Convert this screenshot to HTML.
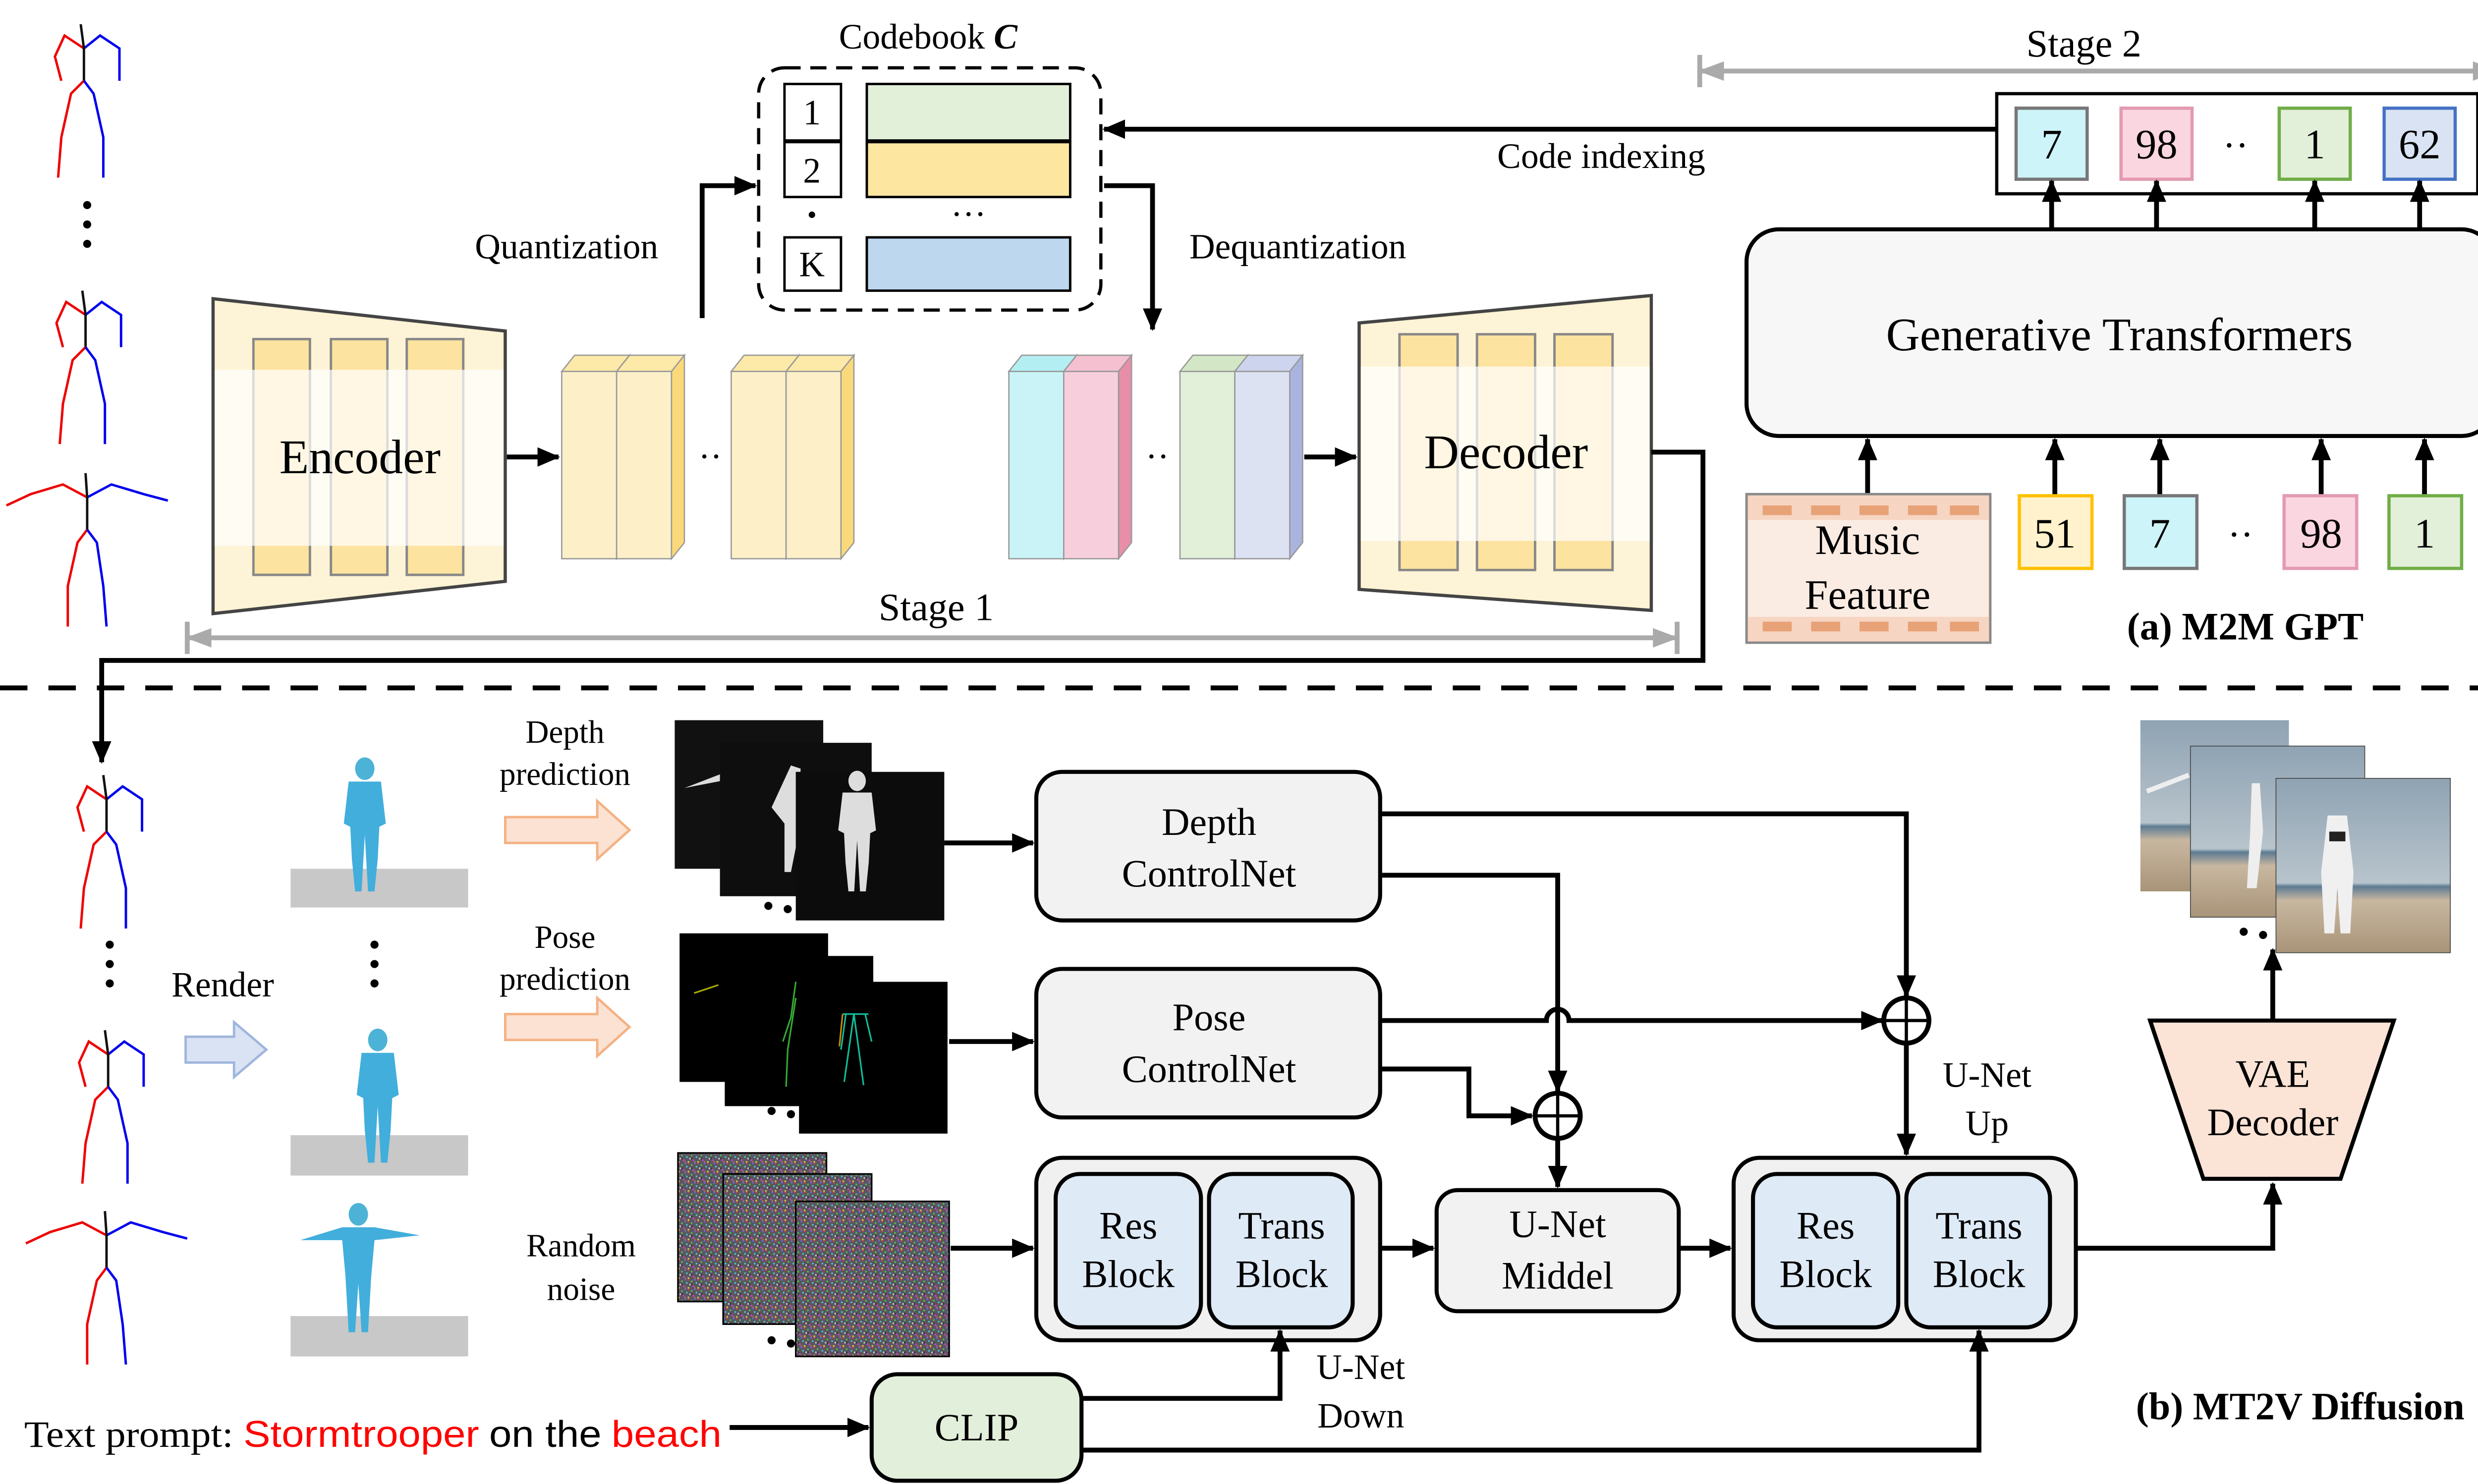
<!DOCTYPE html>
<html><head><meta charset="utf-8"><style>
html,body{margin:0;padding:0;background:#fff}
svg{display:block}
text{font-family:"Liberation Serif",serif;fill:#000}
</style></head><body>
<svg width="5107" height="2995" viewBox="0 0 1568 919" preserveAspectRatio="none" xmlns="http://www.w3.org/2000/svg">
<defs>
<marker id="a" markerUnits="userSpaceOnUse" markerWidth="14" markerHeight="14" refX="13" refY="7" orient="auto"><path d="M0,1 L14,7 L0,13 z" fill="#000"/></marker>
<marker id="g" markerUnits="userSpaceOnUse" markerWidth="16" markerHeight="14" refX="2" refY="7" orient="auto"><path d="M0,7 L16,1 L16,13 z" fill="#aaa"/></marker>
<marker id="g2" markerUnits="userSpaceOnUse" markerWidth="16" markerHeight="14" refX="14" refY="7" orient="auto"><path d="M16,7 L0,1 L0,13 z" fill="#aaa"/></marker>
<pattern id="nz" width="6" height="6" patternUnits="userSpaceOnUse">
<rect width="6" height="6" fill="#5a5560"/>
<rect x="0" y="0" width="1" height="1" fill="#c44"/><rect x="2" y="1" width="1" height="1" fill="#4c4"/><rect x="4" y="0" width="1" height="1" fill="#66d"/>
<rect x="1" y="3" width="1" height="1" fill="#ccc"/><rect x="3" y="4" width="1" height="1" fill="#c4c"/><rect x="5" y="2" width="1" height="1" fill="#4cc"/>
<rect x="0" y="5" width="1" height="1" fill="#cc4"/><rect x="4" y="5" width="1" height="1" fill="#a66"/><rect x="2" y="3" width="1" height="1" fill="#333"/>
</pattern>
<linearGradient id="sky" x1="0" y1="0" x2="0" y2="1"><stop offset="0" stop-color="#8fa3b3"/><stop offset="0.6" stop-color="#b8c4cc"/><stop offset="0.62" stop-color="#5d7b93"/><stop offset="0.7" stop-color="#c8b7a0"/><stop offset="1" stop-color="#a89478"/></linearGradient>
<g id="skel" fill="none" stroke-width="1.5">
<path d="M0,-30 L-12,-38 L-18,-25 L-14,-10" stroke="#e00"/><path d="M0,-30 L10,-38 L22,-30 L22,-10" stroke="#00e"/>
<path d="M-2,-45 L0,-30 L0,-10" stroke="#111"/>
<path d="M0,-10 L-8,-2 L-14,25 L-16,50" stroke="#e00"/><path d="M0,-10 L6,-2 L12,25 L12,50" stroke="#00e"/>
</g>
<g id="skelT" fill="none" stroke-width="1.5">
<path d="M0,-30 L-15,-38 L-35,-32 L-50,-25" stroke="#e00"/><path d="M0,-30 L15,-38 L35,-32 L50,-28" stroke="#00e"/>
<path d="M-1,-45 L0,-30 L0,-10" stroke="#111"/>
<path d="M0,-10 L-6,-2 L-12,25 L-12,50" stroke="#e00"/><path d="M0,-10 L6,-2 L10,25 L12,50" stroke="#00e"/>
</g>
<g id="mesh"><ellipse cx="0" cy="-36" rx="6" ry="7" fill="#4db3d6"/><path d="M-10,-28 L10,-28 L13,-2 L9,0 L8,20 L6,40 L2,40 L0,5 L-2,40 L-6,40 L-8,20 L-9,0 L-13,-2 z" fill="#42aedc"/></g>
</defs>

<use href="#skel" transform="translate(52,60)"/>
<circle cx="54" cy="127" r="2.5"/><circle cx="54" cy="139" r="2.5"/><circle cx="54" cy="151" r="2.5"/>
<use href="#skel" transform="translate(53,225)"/>
<use href="#skelT" transform="translate(54,338)"/>

<text x="575" y="30" font-size="22" text-anchor="middle">Codebook <tspan font-style="italic" font-weight="bold">C</tspan></text>
<rect x="470" y="42" width="212" height="150" rx="16" fill="none" stroke="#000" stroke-width="2" stroke-dasharray="10,6"/>
<rect x="486" y="52" width="35" height="35" fill="#fff" stroke="#000" stroke-width="1.5"/><text x="503" y="77" font-size="22" text-anchor="middle">1</text>
<rect x="486" y="88" width="35" height="34" fill="#fff" stroke="#000" stroke-width="1.5"/><text x="503" y="113" font-size="22" text-anchor="middle">2</text>
<circle cx="503" cy="133" r="2"/>
<rect x="486" y="147" width="35" height="33" fill="#fff" stroke="#000" stroke-width="1.5"/><text x="503" y="171" font-size="22" text-anchor="middle">K</text>
<rect x="537" y="52" width="126" height="35" fill="#e2efd9" stroke="#000" stroke-width="1.5"/>
<rect x="537" y="88" width="126" height="34" fill="#fde6a0" stroke="#000" stroke-width="1.5"/>
<text x="600" y="140" font-size="22" text-anchor="middle">···</text>
<rect x="537" y="147" width="126" height="33" fill="#bdd7ee" stroke="#000" stroke-width="1.5"/>
<text x="351" y="160" font-size="22" text-anchor="middle">Quantization</text>
<polyline points="435,197 435,115 468,115" fill="none" stroke="#000" stroke-width="3" marker-end="url(#a)"/>
<text x="804" y="160" font-size="22" text-anchor="middle">Dequantization</text>
<polyline points="684,115 714,115 714,204" fill="none" stroke="#000" stroke-width="3" marker-end="url(#a)"/>

<path d="M132,185 L313,205 L313,360 L132,380 z" fill="#fdf3d6" stroke="#444" stroke-width="2"/>
<rect x="157" y="210" width="35" height="146" fill="#fde3a0" stroke="#888" stroke-width="1.5"/>
<rect x="205" y="210" width="35" height="146" fill="#fde3a0" stroke="#888" stroke-width="1.5"/>
<rect x="252" y="210" width="35" height="146" fill="#fde3a0" stroke="#888" stroke-width="1.5"/>
<rect x="133" y="229" width="179" height="109" fill="#fff" fill-opacity="0.7"/>
<text x="223" y="293" font-size="30" text-anchor="middle">Encoder</text>
<line x1="314" y1="283" x2="346" y2="283" stroke="#000" stroke-width="3" marker-end="url(#a)"/>

<g stroke="#999" stroke-width="0.8">
<rect x="348" y="230" width="34" height="116" fill="#fdf0c8"/><path d="M348,230 L356,220 L390,220 L382,230 z" fill="#fde9a8"/><path d="M382,230 L390,220 L390,336 L382,346 z" fill="#fbd97a"/>
<rect x="382" y="230" width="34" height="116" fill="#fdf0c8"/><path d="M382,230 L390,220 L424,220 L416,230 z" fill="#fde9a8"/><path d="M416,230 L424,220 L424,336 L416,346 z" fill="#fbd97a"/>
<rect x="453" y="230" width="34" height="116" fill="#fdf0c8"/><path d="M453,230 L461,220 L495,220 L487,230 z" fill="#fde9a8"/><path d="M487,230 L495,220 L495,336 L487,346 z" fill="#fbd97a"/>
<rect x="487" y="230" width="34" height="116" fill="#fdf0c8"/><path d="M487,230 L495,220 L529,220 L521,230 z" fill="#fde9a8"/><path d="M521,230 L529,220 L529,336 L521,346 z" fill="#fbd97a"/>
<rect x="625" y="230" width="34" height="116" fill="#c9f3f7"/><path d="M625,230 L633,220 L667,220 L659,230 z" fill="#b3eef3"/><path d="M659,230 L667,220 L667,336 L659,346 z" fill="#8fdde6"/>
<rect x="659" y="230" width="34" height="116" fill="#f7cfdc"/><path d="M659,230 L667,220 L701,220 L693,230 z" fill="#f5c0d0"/><path d="M693,230 L701,220 L701,336 L693,346 z" fill="#e88ea9"/>
<rect x="731" y="230" width="34" height="116" fill="#e2efd9"/><path d="M731,230 L739,220 L773,220 L765,230 z" fill="#d3e7c6"/><path d="M765,230 L773,220 L773,336 L765,346 z" fill="#b6d6a1"/>
<rect x="765" y="230" width="34" height="116" fill="#dde2f3"/><path d="M765,230 L773,220 L807,220 L799,230 z" fill="#cdd4ee"/><path d="M799,230 L807,220 L807,336 L799,346 z" fill="#a9b4de"/>
</g>
<text x="440" y="290" font-size="22" text-anchor="middle">··</text>
<text x="717" y="290" font-size="22" text-anchor="middle">··</text>
<line x1="808" y1="283" x2="840" y2="283" stroke="#000" stroke-width="3" marker-end="url(#a)"/>

<path d="M842,200 L1023,183 L1023,378 L842,365 z" fill="#fdf3d6" stroke="#444" stroke-width="2"/>
<rect x="867" y="207" width="36" height="146" fill="#fde3a0" stroke="#888" stroke-width="1.5"/>
<rect x="915" y="207" width="36" height="146" fill="#fde3a0" stroke="#888" stroke-width="1.5"/>
<rect x="963" y="207" width="36" height="146" fill="#fde3a0" stroke="#888" stroke-width="1.5"/>
<rect x="843" y="227" width="179" height="108" fill="#fff" fill-opacity="0.7"/>
<text x="933" y="290" font-size="30" text-anchor="middle">Decoder</text>
<polyline points="1023,280 1055,280 1055,409 63,409 63,472" fill="none" stroke="#000" stroke-width="3" marker-end="url(#a)"/>

<text x="580" y="384" font-size="24" text-anchor="middle">Stage 1</text>
<line x1="117" y1="395" x2="1038" y2="395" stroke="#aaa" stroke-width="3" marker-start="url(#g)" marker-end="url(#g2)"/>
<line x1="116" y1="385" x2="116" y2="405" stroke="#aaa" stroke-width="3"/><line x1="1039" y1="385" x2="1039" y2="405" stroke="#aaa" stroke-width="3"/>
<text x="1291" y="35" font-size="24" text-anchor="middle">Stage 2</text>
<line x1="1054" y1="44" x2="1546" y2="44" stroke="#aaa" stroke-width="3" marker-start="url(#g)" marker-end="url(#g2)"/>
<line x1="1053" y1="34" x2="1053" y2="54" stroke="#aaa" stroke-width="3"/><line x1="1547" y1="34" x2="1547" y2="54" stroke="#aaa" stroke-width="3"/>

<rect x="1237" y="58" width="298" height="62" fill="#fff" stroke="#000" stroke-width="2"/>
<rect x="1249" y="67" width="44" height="44" fill="#cdf4f8" stroke="#777" stroke-width="2"/><text x="1271" y="98" font-size="26" text-anchor="middle">7</text>
<rect x="1314" y="67" width="44" height="44" fill="#fad6e0" stroke="#e39ab0" stroke-width="2"/><text x="1336" y="98" font-size="26" text-anchor="middle">98</text>
<text x="1385" y="98" font-size="24" text-anchor="middle">··</text>
<rect x="1412" y="67" width="44" height="44" fill="#e2efd9" stroke="#70ad47" stroke-width="2"/><text x="1434" y="98" font-size="26" text-anchor="middle">1</text>
<rect x="1477" y="67" width="44" height="44" fill="#dae3f3" stroke="#4472c4" stroke-width="2"/><text x="1499" y="98" font-size="26" text-anchor="middle">62</text>
<line x1="1237" y1="80" x2="684" y2="80" stroke="#000" stroke-width="3" marker-end="url(#a)"/>
<text x="992" y="104" font-size="22" text-anchor="middle">Code indexing</text>

<rect x="1082" y="142" width="463" height="128" rx="20" fill="#f7f7f7" stroke="#000" stroke-width="2.5"/>
<text x="1313" y="217" font-size="29" text-anchor="middle">Generative Transformers</text>
<g stroke="#000" stroke-width="3" marker-end="url(#a)">
<line x1="1271" y1="142" x2="1271" y2="112"/><line x1="1336" y1="142" x2="1336" y2="112"/><line x1="1434" y1="142" x2="1434" y2="112"/><line x1="1499" y1="142" x2="1499" y2="112"/>
<line x1="1157" y1="306" x2="1157" y2="272"/><line x1="1273" y1="307" x2="1273" y2="272"/><line x1="1338" y1="307" x2="1338" y2="272"/><line x1="1438" y1="307" x2="1438" y2="272"/><line x1="1502" y1="307" x2="1502" y2="272"/>
</g>
<rect x="1082" y="306" width="151" height="92" fill="#f6d5c2" stroke="#888" stroke-width="1.5"/>
<g fill="#e8a277"><rect x="1092" y="313" width="18" height="6"/><rect x="1122" y="313" width="18" height="6"/><rect x="1152" y="313" width="18" height="6"/><rect x="1182" y="313" width="18" height="6"/><rect x="1208" y="313" width="18" height="6"/>
<rect x="1092" y="385" width="18" height="6"/><rect x="1122" y="385" width="18" height="6"/><rect x="1152" y="385" width="18" height="6"/><rect x="1182" y="385" width="18" height="6"/><rect x="1208" y="385" width="18" height="6"/></g>
<rect x="1083" y="322" width="149" height="60" fill="#fff" fill-opacity="0.55"/>
<text x="1157" y="343" font-size="26" text-anchor="middle">Music</text>
<text x="1157" y="377" font-size="26" text-anchor="middle">Feature</text>
<rect x="1251" y="307" width="45" height="45" fill="#fff2cc" stroke="#ffc000" stroke-width="2"/><text x="1273" y="339" font-size="26" text-anchor="middle">51</text>
<rect x="1316" y="307" width="45" height="45" fill="#cdf4f8" stroke="#777" stroke-width="2"/><text x="1338" y="339" font-size="26" text-anchor="middle">7</text>
<text x="1388" y="339" font-size="24" text-anchor="middle">··</text>
<rect x="1415" y="307" width="45" height="45" fill="#fad6e0" stroke="#e39ab0" stroke-width="2"/><text x="1438" y="339" font-size="26" text-anchor="middle">98</text>
<rect x="1480" y="307" width="45" height="45" fill="#e2efd9" stroke="#70ad47" stroke-width="2"/><text x="1502" y="339" font-size="26" text-anchor="middle">1</text>
<text x="1391" y="396" font-size="24" font-weight="bold" text-anchor="middle">(a)  M2M GPT</text>

<line x1="0" y1="426" x2="1568" y2="426" stroke="#000" stroke-width="3" stroke-dasharray="17,13"/>

<use href="#skel" transform="translate(66,525)"/>
<circle cx="68" cy="585" r="2.5"/><circle cx="68" cy="597" r="2.5"/><circle cx="68" cy="609" r="2.5"/>
<use href="#skel" transform="translate(67,683)"/>
<use href="#skelT" transform="translate(66,795)"/>
<text x="138" y="617" font-size="22" text-anchor="middle">Render</text>
<path d="M115,642 L145,642 L145,633 L165,650 L145,667 L145,658 L115,658 z" fill="#dae3f3" stroke="#9fb6dd" stroke-width="1.5"/>
<rect x="180" y="538" width="110" height="24" fill="#c8c8c8"/><use href="#mesh" transform="translate(226,512)"/>
<circle cx="232" cy="585" r="2.5"/><circle cx="232" cy="597" r="2.5"/><circle cx="232" cy="609" r="2.5"/>
<rect x="180" y="703" width="110" height="25" fill="#c8c8c8"/><use href="#mesh" transform="translate(234,680)"/>
<rect x="180" y="815" width="110" height="25" fill="#c8c8c8"/>
<ellipse cx="222" cy="752" rx="6" ry="7" fill="#4db3d6"/><path d="M186,768 L212,760 L232,760 L260,765 L232,768 L230,790 L228,825 L224,825 L222,795 L220,825 L216,825 L214,790 L212,768 z" fill="#42aedc"/>

<text x="350" y="460" font-size="20" text-anchor="middle">Depth</text><text x="350" y="486" font-size="20" text-anchor="middle">prediction</text>
<path d="M313,506 L370,506 L370,496 L390,514 L370,532 L370,522 L313,522 z" fill="#fbe2d3" stroke="#f4b183" stroke-width="1.5"/>
<text x="350" y="587" font-size="20" text-anchor="middle">Pose</text><text x="350" y="613" font-size="20" text-anchor="middle">prediction</text>
<path d="M313,628 L370,628 L370,618 L390,636 L370,654 L370,644 L313,644 z" fill="#fbe2d3" stroke="#f4b183" stroke-width="1.5"/>
<text x="360" y="778" font-size="20" text-anchor="middle">Random</text><text x="360" y="805" font-size="20" text-anchor="middle">noise</text>

<rect x="418" y="446" width="92" height="92" fill="#111"/><path d="M424,488 L450,478 L455,482 z" fill="#ddd"/>
<rect x="446" y="460" width="94" height="95" fill="#0e0e0e"/><path d="M490,474 L496,476 L494,520 L490,540 L486,540 L486,510 L478,500 z" fill="#ddd"/>
<rect x="493" y="478" width="92" height="92" fill="#0c0c0c"/><g transform="translate(531,516) scale(0.9)"><ellipse cx="0" cy="-36" rx="6" ry="7" fill="#ddd"/><path d="M-10,-28 L10,-28 L13,-2 L9,0 L8,20 L6,40 L2,40 L0,5 L-2,40 L-6,40 L-8,20 L-9,0 L-13,-2 z" fill="#ddd"/></g>
<circle cx="476" cy="561" r="2.5"/><circle cx="488" cy="563" r="2.5"/>
<rect x="421" y="578" width="92" height="92" fill="#000"/><path d="M430,615 L445,610" stroke="#aa0" stroke-width="1"/>
<rect x="449" y="592" width="92" height="93" fill="#000"/><path d="M493,608 L490,630 L485,645 M493,618 L488,650 L487,673" stroke="#3a3" fill="none" stroke-width="1"/>
<rect x="495" y="608" width="92" height="94" fill="#000"/><path d="M522,628 L538,628 M524,628 L521,650 M536,628 L540,645 M529,628 L523,670 M529,628 L535,672" stroke="#1b9" fill="none" stroke-width="1"/><path d="M522,628 L520,648" stroke="#c80" stroke-width="1"/>
<circle cx="478" cy="688" r="2.5"/><circle cx="490" cy="690" r="2.5"/>
<rect x="420" y="714" width="92" height="92" fill="url(#nz)" stroke="#000" stroke-width="1"/>
<rect x="448" y="727" width="92" height="93" fill="url(#nz)" stroke="#000" stroke-width="1"/>
<rect x="493" y="744" width="95" height="96" fill="url(#nz)" stroke="#000" stroke-width="1"/>
<circle cx="478" cy="830" r="2.5"/><circle cx="490" cy="832" r="2.5"/>
<g stroke="#000" stroke-width="3" marker-end="url(#a)">
<line x1="585" y1="522" x2="640" y2="522"/><line x1="588" y1="645" x2="640" y2="645"/><line x1="589" y1="773" x2="640" y2="773"/>
</g>

<rect x="642" y="478" width="213" height="92" rx="16" fill="#f2f2f2" stroke="#000" stroke-width="2.5"/>
<text x="749" y="517" font-size="24" text-anchor="middle">Depth</text><text x="749" y="549" font-size="24" text-anchor="middle">ControlNet</text>
<rect x="642" y="600" width="213" height="92" rx="16" fill="#f2f2f2" stroke="#000" stroke-width="2.5"/>
<text x="749" y="638" font-size="24" text-anchor="middle">Pose</text><text x="749" y="670" font-size="24" text-anchor="middle">ControlNet</text>

<rect x="642" y="717" width="213" height="113" rx="16" fill="#f0f0f0" stroke="#000" stroke-width="2.5"/>
<rect x="654" y="727" width="90" height="95" rx="15" fill="#deeaf6" stroke="#000" stroke-width="2.5"/>
<rect x="749" y="727" width="89" height="95" rx="15" fill="#deeaf6" stroke="#000" stroke-width="2.5"/>
<text x="699" y="767" font-size="24" text-anchor="middle">Res</text><text x="699" y="797" font-size="24" text-anchor="middle">Block</text>
<text x="794" y="767" font-size="24" text-anchor="middle">Trans</text><text x="794" y="797" font-size="24" text-anchor="middle">Block</text>
<line x1="856" y1="773" x2="888" y2="773" stroke="#000" stroke-width="3" marker-end="url(#a)"/>
<rect x="890" y="737" width="150" height="75" rx="13" fill="#f2f2f2" stroke="#000" stroke-width="2.5"/>
<text x="965" y="766" font-size="24" text-anchor="middle">U-Net</text><text x="965" y="798" font-size="24" text-anchor="middle">Middel</text>
<line x1="1041" y1="773" x2="1072" y2="773" stroke="#000" stroke-width="3" marker-end="url(#a)"/>
<rect x="1074" y="717" width="212" height="113" rx="16" fill="#f0f0f0" stroke="#000" stroke-width="2.5"/>
<rect x="1086" y="727" width="90" height="95" rx="15" fill="#deeaf6" stroke="#000" stroke-width="2.5"/>
<rect x="1181" y="727" width="89" height="95" rx="15" fill="#deeaf6" stroke="#000" stroke-width="2.5"/>
<text x="1131" y="767" font-size="24" text-anchor="middle">Res</text><text x="1131" y="797" font-size="24" text-anchor="middle">Block</text>
<text x="1226" y="767" font-size="24" text-anchor="middle">Trans</text><text x="1226" y="797" font-size="24" text-anchor="middle">Block</text>

<g fill="none" stroke="#000" stroke-width="3">
<polyline points="855,504 1181,504 1181,617" marker-end="url(#a)"/>
<polyline points="855,542 965,542 965,676" marker-end="url(#a)"/>
<path d="M855,632 L958,632 A7,7 0 0 1 972,632 L1166,632" marker-end="url(#a)"/>
<polyline points="855,662 910,662 910,691 949,691" marker-end="url(#a)"/>
<line x1="965" y1="705" x2="965" y2="735" marker-end="url(#a)"/>
<line x1="1181" y1="646" x2="1181" y2="715" marker-end="url(#a)"/>
<circle cx="965" cy="691" r="14" fill="#fff"/><line x1="951" y1="691" x2="979" y2="691" stroke-width="2"/><line x1="965" y1="677" x2="965" y2="705" stroke-width="2"/>
<circle cx="1181" cy="632" r="14" fill="#fff"/><line x1="1167" y1="632" x2="1195" y2="632" stroke-width="2"/><line x1="1181" y1="618" x2="1181" y2="646" stroke-width="2"/>
<polyline points="1286,773 1408,773 1408,733" marker-end="url(#a)"/>
<line x1="1408" y1="631" x2="1408" y2="588" marker-end="url(#a)"/>
</g>
<text x="1231" y="673" font-size="22" text-anchor="middle">U-Net</text><text x="1231" y="703" font-size="22" text-anchor="middle">Up</text>

<path d="M1332,632 L1483,632 L1450,730 L1365,730 z" fill="#fbe3d5" stroke="#000" stroke-width="2.5"/>
<text x="1408" y="673" font-size="24" text-anchor="middle">VAE</text><text x="1408" y="703" font-size="24" text-anchor="middle">Decoder</text>

<rect x="1326" y="446" width="92" height="106" fill="url(#sky)"/><path d="M1330,490 L1356,480" stroke="#eee" stroke-width="3"/>
<rect x="1357" y="462" width="108" height="106" fill="url(#sky)" stroke="#444" stroke-width="0.5"/><path d="M1395,485 L1400,485 L1402,515 L1398,550 L1392,550 L1394,515 z" fill="#eee"/>
<rect x="1410" y="482" width="108" height="108" fill="url(#sky)" stroke="#444" stroke-width="0.5"/><path d="M1442,505 L1454,505 L1458,540 L1456,578 L1450,578 L1448,550 L1446,578 L1440,578 L1438,540 z" fill="#f0f0f0"/><rect x="1443" y="515" width="10" height="6" fill="#222"/>
<circle cx="1390" cy="577" r="2.5"/><circle cx="1402" cy="579" r="2.5"/>

<rect x="540" y="851" width="130" height="66" rx="16" fill="#e2efda" stroke="#000" stroke-width="2.5"/>
<text x="605" y="892" font-size="24" text-anchor="middle">CLIP</text>
<text x="15" y="896" font-size="23" textLength="432" lengthAdjust="spacingAndGlyphs">Text prompt: <tspan fill="#f00" font-family="Liberation Sans, sans-serif" font-size="23">Stormtrooper</tspan> <tspan font-family="Liberation Sans, sans-serif" font-size="23">on the</tspan> <tspan fill="#f00" font-family="Liberation Sans, sans-serif" font-size="23">beach</tspan></text>
<g fill="none" stroke="#000" stroke-width="3">
<line x1="452" y1="884" x2="538" y2="884" marker-end="url(#a)"/>
<polyline points="670,866 793,866 793,824" marker-end="url(#a)"/>
<polyline points="670,898 1226,898 1226,824" marker-end="url(#a)"/>
</g>
<text x="843" y="854" font-size="22" text-anchor="middle">U-Net</text><text x="843" y="884" font-size="22" text-anchor="middle">Down</text>
<text x="1425" y="879" font-size="24" font-weight="bold" text-anchor="middle">(b)  MT2V Diffusion</text>
</svg>
</body></html>
